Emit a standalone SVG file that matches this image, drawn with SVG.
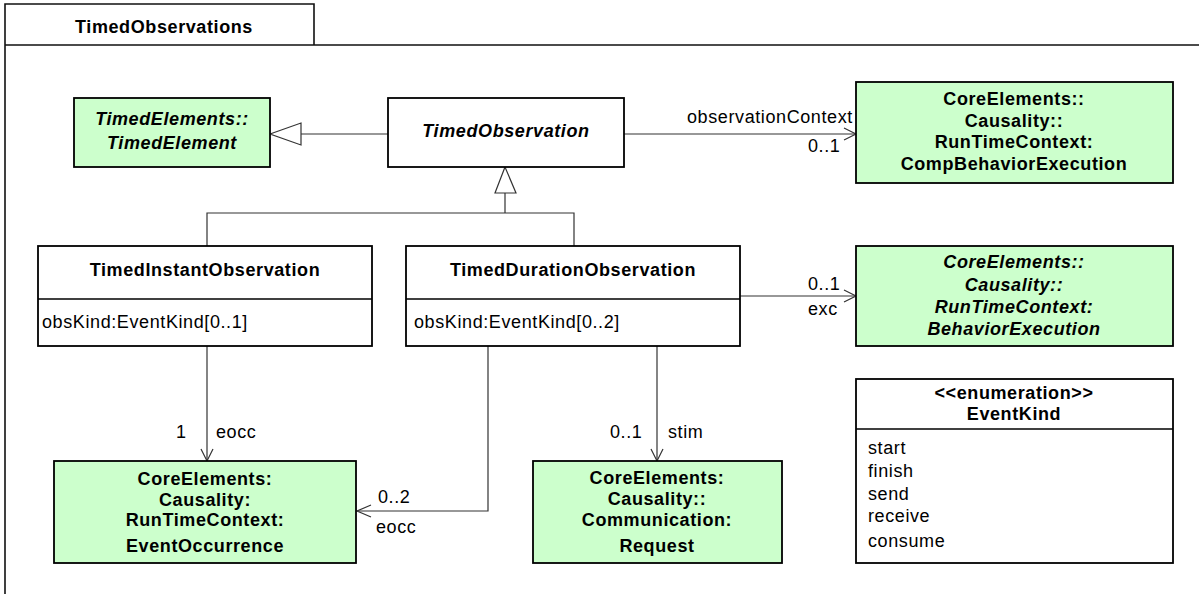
<svg xmlns="http://www.w3.org/2000/svg" width="1199" height="594" viewBox="0 0 1199 594">
<style>
text{font-family:"Liberation Sans",Arial,sans-serif;font-size:18px;letter-spacing:0.6px;fill:#000}
.t{font-weight:bold;text-anchor:middle}
.ti{font-weight:bold;font-style:italic;text-anchor:middle}
.box{fill:#fff;stroke:#000;stroke-width:1.8}
.grn{fill:#ccffcc;stroke:#000;stroke-width:1.8}
.ln{fill:none;stroke:#333;stroke-width:1.2}
.div{fill:none;stroke:#000;stroke-width:1.5}
.frm{fill:none;stroke:#111;stroke-width:1.6}
.tri{fill:#fff;stroke:#333;stroke-width:1.2}
</style>
<rect width="1199" height="594" fill="#fff"/>
<g id="frame">
<path class="frm" d="M5,594 V4 H314 V45 M5,45 H1199"/>
<text class="t" x="164" y="33">TimedObservations</text>
</g>
<g id="connectors">
<path class="ln" d="M388,134 H301"/>
<polygon class="tri" points="270,134 301,123 301,145"/>
<path class="ln" d="M624,134 H856"/>
<path class="ln" d="M844,128 L856,134 L844,140"/>
<text x="687" y="123">observationContext</text>
<text x="808" y="152">0..1</text>
<path class="ln" d="M505,193 V213 M207,246 V213 H574 V246"/>
<polygon class="tri" points="505,167 495,193 516,193"/>
<path class="ln" d="M740,296 H856"/>
<path class="ln" d="M844,290 L856,296 L844,302"/>
<text x="808" y="290">0..1</text>
<text x="808" y="315">exc</text>
<path class="ln" d="M207,346 V461"/>
<path class="ln" d="M201,449 L207,461 L213,449"/>
<text x="176" y="438">1</text>
<text x="216" y="438">eocc</text>
<path class="ln" d="M488,346 V511 H357"/>
<path class="ln" d="M371,505 L357,511 L371,517"/>
<text x="378" y="503">0..2</text>
<text x="376" y="533">eocc</text>
<path class="ln" d="M657,346 V461"/>
<path class="ln" d="M651,449 L657,461 L663,449"/>
<text x="610" y="438">0..1</text>
<text x="668" y="438">stim</text>
</g>
<g id="TimedElement">
<rect class="grn" x="74" y="98" width="196" height="69"/>
<text class="ti" x="172" y="125">TimedElements::</text>
<text class="ti" x="172" y="149">TimedElement</text>
</g>
<g id="TimedObservation">
<rect class="box" x="388" y="98" width="236" height="69"/>
<text class="ti" x="506" y="137">TimedObservation</text>
</g>
<g id="CompBehaviorExecution">
<rect class="grn" x="856" y="82" width="317" height="101"/>
<text class="t" x="1014" y="105">CoreElements::</text>
<text class="t" x="1014" y="127">Causality::</text>
<text class="t" x="1014" y="148">RunTimeContext:</text>
<text class="t" x="1014" y="170">CompBehaviorExecution</text>
</g>
<g id="TimedInstantObservation">
<rect class="box" x="38" y="246" width="334" height="100"/>
<path class="div" d="M38,299 H372"/>
<text class="t" x="205" y="276">TimedInstantObservation</text>
<text x="42" y="328">obsKind:EventKind[0..1]</text>
</g>
<g id="TimedDurationObservation">
<rect class="box" x="406" y="246" width="334" height="100"/>
<path class="div" d="M406,299 H740"/>
<text class="t" x="573" y="276">TimedDurationObservation</text>
<text x="414" y="328">obsKind:EventKind[0..2]</text>
</g>
<g id="BehaviorExecution">
<rect class="grn" x="856" y="246" width="317" height="100"/>
<text class="ti" x="1014" y="268">CoreElements::</text>
<text class="ti" x="1014" y="291">Causality::</text>
<text class="ti" x="1014" y="313">RunTimeContext:</text>
<text class="ti" x="1014" y="335">BehaviorExecution</text>
</g>
<g id="EventKind">
<rect class="box" x="856" y="379" width="317" height="184"/>
<path class="div" d="M856,429 H1173"/>
<text class="t" x="1014" y="399">&lt;&lt;enumeration&gt;&gt;</text>
<text class="t" x="1014" y="420">EventKind</text>
<text x="868" y="454">start</text>
<text x="868" y="477">finish</text>
<text x="868" y="500">send</text>
<text x="868" y="522">receive</text>
<text x="868" y="547">consume</text>
</g>
<g id="EventOccurrence">
<rect class="grn" x="54" y="461" width="302" height="102"/>
<text class="t" x="205" y="485">CoreElements:</text>
<text class="t" x="205" y="506">Causality:</text>
<text class="t" x="205" y="526">RunTimeContext:</text>
<text class="t" x="205" y="552">EventOccurrence</text>
</g>
<g id="Request">
<rect class="grn" x="533" y="461" width="249" height="102"/>
<text class="t" x="657" y="484">CoreElements:</text>
<text class="t" x="657" y="505">Causality::</text>
<text class="t" x="657" y="526">Communication:</text>
<text class="t" x="657" y="552">Request</text>
</g>
</svg>
